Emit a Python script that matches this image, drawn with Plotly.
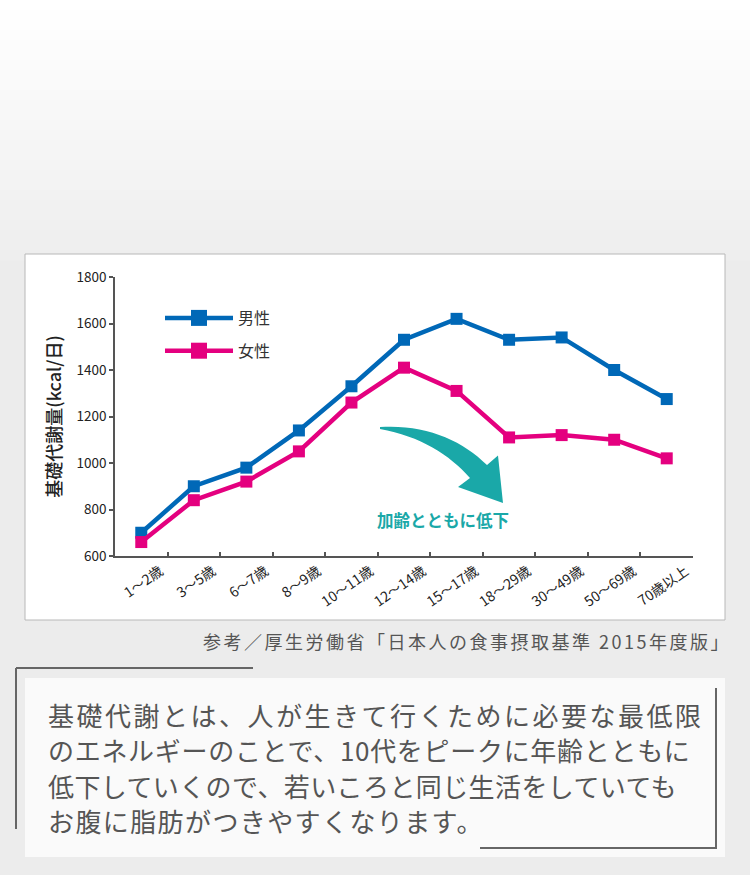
import plotly.graph_objects as go

# ---- data ----
age_groups = ["1〜2歳", "3〜5歳", "6〜7歳", "8〜9歳", "10〜11歳", "12〜14歳",
              "15〜17歳", "18〜29歳", "30〜49歳", "50〜69歳", "70歳以上"]
male_bmr = [700, 900, 980, 1140, 1330, 1530, 1620, 1530, 1540, 1400, 1275]
female_bmr = [660, 840, 920, 1050, 1260, 1410, 1310, 1110, 1120, 1100, 1020]
series_names = ["男性", "女性"]
y_ticks = [600, 800, 1000, 1200, 1400, 1600, 1800]

W, H = 750, 875
L, R, T, B = 115, 693, 277, 556  # plot area in pixels

def px(x):
    return (x - L) / (R - L)

def py(y):
    return (B - y) / (B - T)

FONT = "Noto Sans CJK JP"
BLUE = "#0068b7"
PINK = "#e4007f"
TEAL = "#1aa8a8"

fig = go.Figure()

for name, vals, col in [(series_names[0], male_bmr, BLUE), (series_names[1], female_bmr, PINK)]:
    fig.add_trace(go.Scatter(
        x=age_groups, y=vals, mode="lines+markers", name=name,
        line=dict(color=col, width=4.5),
        marker=dict(symbol="square", size=12, color=col),
        showlegend=False, hoverinfo="x+y",
    ))

# legend entries (larger symbols like the reference)
for i, (name, col) in enumerate([(series_names[0], BLUE), (series_names[1], PINK)]):
    fig.add_trace(go.Scatter(
        x=[None], y=[None], mode="lines+markers", name=name,
        line=dict(color=col, width=4.5),
        marker=dict(symbol="square", size=16, color=col),
        legendgroup=f"g{i}", showlegend=True,
    ))

shapes = []
# background gradient at top
n = 26
for i in range(n):
    t = i / (n - 1)
    v = int(round(255 - (255 - 238) * t))
    shapes.append(dict(type="rect", xref="paper", yref="paper",
                       x0=px(0), x1=px(W), y0=py(i * 10), y1=py(i * 10 + 10.5),
                       fillcolor=f"rgb({v},{v},{v})", line=dict(width=0), layer="below"))
# chart box
shapes.append(dict(type="rect", xref="paper", yref="paper",
                   x0=px(25), x1=px(725), y0=py(254), y1=py(620),
                   fillcolor="white", line=dict(color="#b8b8b8", width=1), layer="below"))
# text box
shapes.append(dict(type="rect", xref="paper", yref="paper",
                   x0=px(25), x1=px(725), y0=py(678), y1=py(857),
                   fillcolor="#fafafa", line=dict(width=0), layer="below"))
# decorative corner lines
for (x0, y0, x1, y1) in [(16, 668, 253, 668), (16, 668, 16, 829),
                         (716, 688, 716, 848), (480, 848, 717, 848)]:
    shapes.append(dict(type="line", xref="paper", yref="paper",
                       x0=px(x0), x1=px(x1), y0=py(y0), y1=py(y1),
                       line=dict(color="#666666", width=2), layer="below"))

# curved arrow
def P(x, y):
    return f"{px(x):.5f},{py(y):.5f}"

arrow_path = (f"M{P(380,427)} C{P(425,424)} {P(462,440)} {P(487,465)} "
              f"L{P(498,455.5)} L{P(503,503)} L{P(458,487)} L{P(470,478)} "
              f"C{P(450,455)} {P(420,436)} {P(380,429)} Z")
shapes.append(dict(type="path", xref="paper", yref="paper", path=arrow_path,
                   fillcolor=TEAL, line=dict(width=0), layer="below"))

annotations = []
annotations.append(dict(x=px(443), y=py(520), xref="paper", yref="paper",
                        text="加齢とともに低下", showarrow=False,
                        font=dict(family=FONT, size=16.5, color=TEAL, weight=600),
                        xanchor="center", yanchor="middle"))
annotations.append(dict(x=px(733), y=py(641), xref="paper", yref="paper",
                        text='<span style="letter-spacing:2.5px">参考／厚生労働省「日本人の食事摂取基準 2015年度版」</span>',
                        showarrow=False,
                        font=dict(family=FONT, size=18, color="#555555"),
                        xanchor="right", yanchor="middle"))

body_lines = [
    "基礎代謝とは、人が生きて行くために必要な最低限",
    "のエネルギーのことで、10代をピークに年齢とともに",
    "低下していくので、若いころと同じ生活をしていても",
    "お腹に脂肪がつきやすくなります。",
]
body_spacing = [2.5, 0.7, 0.4, 1.4]
for i, line in enumerate(body_lines):
    annotations.append(dict(x=px(46), y=py(714 + i * 35.5), xref="paper", yref="paper",
                            text=f'<span style="letter-spacing:{body_spacing[i]}px">{line}</span>',
                            showarrow=False,
                            font=dict(family=FONT, size=26, color="#555555"),
                            xanchor="left", yanchor="middle"))

fig.update_layout(
    width=W, height=H,
    margin=dict(l=L, r=W - R, t=T, b=H - B, pad=0),
    paper_bgcolor="#ececec",
    plot_bgcolor="rgba(0,0,0,0)",
    shapes=shapes,
    annotations=annotations,
    showlegend=True,
    legend=dict(x=px(160), y=py(301), xanchor="left", yanchor="top",
                bgcolor="rgba(0,0,0,0)", borderwidth=0,
                font=dict(family=FONT, size=16, color="#333333"),
                itemwidth=68, tracegroupgap=9, itemclick=False, itemdoubleclick=False),
    xaxis=dict(
        type="category", range=[-0.5, len(age_groups) - 0.5],
        showline=True, linecolor="#555555", linewidth=1.5,
        ticks="inside", tickson="boundaries", ticklen=4, tickcolor="#555555", tickwidth=1.5,
        tickangle=-35, ticklabelshift=19,
        tickfont=dict(family=FONT, size=14, color="#222222"),
        showgrid=False, zeroline=False, fixedrange=True,
    ),
    yaxis=dict(
        range=[600, 1800], tickvals=y_ticks,
        showline=True, linecolor="#555555", linewidth=1.5,
        ticks="outside", ticklen=4, tickcolor="#555555", tickwidth=1.5,
        tickfont=dict(family=FONT, size=13.5, color="#222222"),
        showgrid=False, zeroline=False, fixedrange=True,
        title=dict(text="基礎代謝量(kcal/日)", standoff=10,
                   font=dict(family=FONT, size=18, color="#222222", weight=500)),
    ),
)

fig.write_html("out.html", config={"displayModeBar": False},
               post_script="document.body.style.margin='0px';document.body.style.overflow='hidden';")
